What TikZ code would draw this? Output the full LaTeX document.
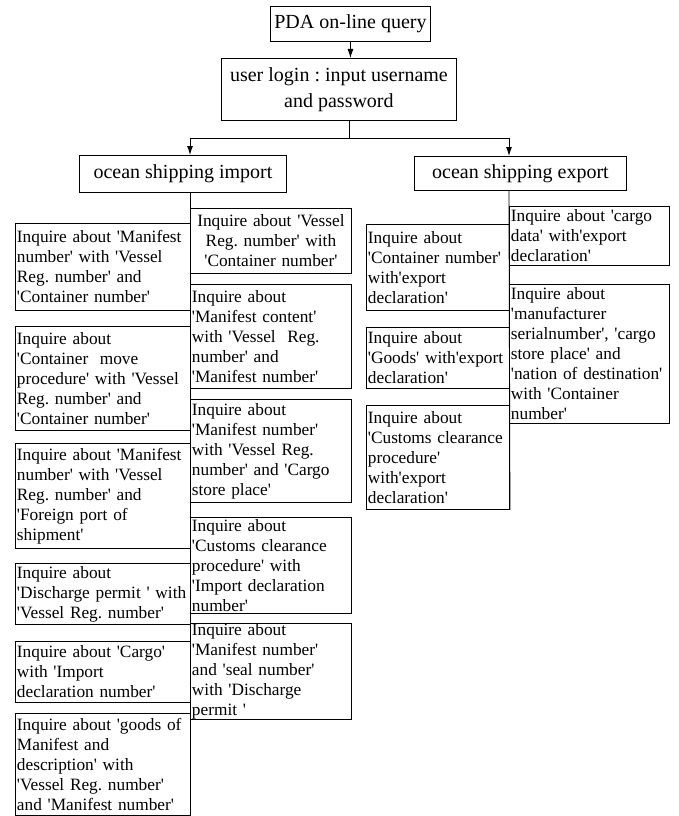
\documentclass[tikz,border=0pt]{standalone}
\usepackage{fontspec}
\setmainfont{Liberation Serif}[Ligatures=TeXOff]
\usetikzlibrary{arrows.meta}

\newcommand{\askfont}{\fontsize{17.3}{20}\selectfont\frenchspacing}
\newcommand{\headfont}{\fontsize{20}{26}\selectfont\frenchspacing}

\tikzset{
	qbox/.style={draw, line width=0.9pt, anchor=north west, inner xsep=1.5pt, inner ysep=0pt},
	head/.style={qbox, font=\headfont, align=center},
	ask/.style={qbox, font=\askfont, align=left},
	impleft/.style={ask, text width=172pt, minimum width=175pt},
	impright/.style={ask, text width=158pt, minimum width=161pt},
	expleft/.style={ask, text width=140pt, minimum width=143pt},
	expright/.style={ask, text width=157pt, minimum width=160pt},
	link/.style={line width=0.9pt},
	tip/.style={link, -{Latex[length=9pt,width=6pt]}}
}

\begin{document}
\begin{tikzpicture}[x=1pt,y=-1pt]
					\useasboundingbox (0,0) rectangle (678,816);

					% top of the tree
					\node[head, minimum width=160pt, minimum height=35pt] (pda) at (270,6) {PDA on-line query};
					\node[head, minimum width=235pt, minimum height=62pt] (login) at (221,58) {user login : input username\\and password};
					\node[head, minimum width=207pt, minimum height=37pt] (imp) at (79,155) {ocean shipping import};
					\node[head, minimum width=212pt, minimum height=34pt] (exp) at (414,156) {ocean shipping export};

					\coordinate (fork) at (349,138);
					\coordinate (impx) at (190,0);
					\coordinate (expx) at (509,0);

					\draw[tip] (pda.south) -- (pda.south |- login.north);
					\draw[link] (fork |- login.south) -- (fork);
					\draw[tip] (fork) -| (imp.north -| impx);
					\draw[tip] (fork) -| (exp.north -| expx);

					% import, left column
					\node[impleft, minimum height=87pt] (L1) at (15,223) {Inquire about 'Manifest\\number' with 'Vessel\\Reg. number' and\\'Container number'};
					\node[impleft, minimum height=104pt] (L2) at (15,326) {Inquire about\\'Container\ \ move\\procedure'~with~'Vessel\\Reg. number' and\\'Container number'};
					\node[impleft, minimum height=105pt] (L3) at (15,443) {Inquire about 'Manifest\\number' with 'Vessel\\Reg. number' and\\'Foreign port of\\shipment'};
					\node[impleft, minimum height=61pt] (L4) at (15,563) {Inquire about\\'Discharge~permit~'~with\\'Vessel Reg. number'};
					\node[impleft, minimum height=61pt] (L5) at (15,641) {Inquire about 'Cargo'\\with 'Import\\declaration number'};
					\node[impleft, minimum height=102pt] (L6) at (15,713) {Inquire about 'goods of\\Manifest and\\description' with\\'Vessel Reg. number'\\and 'Manifest number'};

					% import, right column
					\node[impright, align=center, minimum height=65pt] (R1) at (190,208) {Inquire about 'Vessel\\Reg. number' with\\'Container number'};
					\node[impright, minimum height=104pt] (R2) at (190,284) {Inquire about\\'Manifest content'\\with 'Vessel\ \ Reg.\\number' and\\'Manifest number'};
					\node[impright, minimum height=103pt] (R3) at (190,399) {Inquire about\\'Manifest number'\\with 'Vessel Reg.\\number' and 'Cargo\\store place'};
					\node[impright, minimum height=96pt] (R4) at (190,517) {Inquire about\\'Customs clearance\\procedure' with\\'Import declaration\\number'};
					\node[impright, minimum height=95pt] (R5) at (190,623) {Inquire about\\'Manifest number'\\and 'seal number'\\with 'Discharge\\permit '};

					% export, left column
					\node[expleft, minimum height=86pt] (EL1) at (366,224) {Inquire about\\'Container number'\\with'export\\declaration'};
					\node[expleft, minimum height=61pt] (EL2) at (366,327) {Inquire about\\'Goods' with'export\\declaration'};
					\node[expleft, minimum height=104pt] (EL3) at (366,405) {Inquire about\\'Customs clearance\\procedure'\\with'export\\declaration'};

					% export, right column
					\node[expright, minimum height=59pt] (ER1) at (509,206) {Inquire about 'cargo\\data' with'export\\declaration'};
					\node[expright, minimum height=139pt] (ER2) at (509,284) {Inquire about\\'manufacturer\\serialnumber', 'cargo\\store place' and\\'nation of destination'\\with 'Container\\number'};

					% trunks
					\draw[link] (imp.south -| impx) -- (impx |- L6.south);
					\draw[link] (exp.south -| expx) -- (EL3.south east);
\end{tikzpicture}
\end{document}
